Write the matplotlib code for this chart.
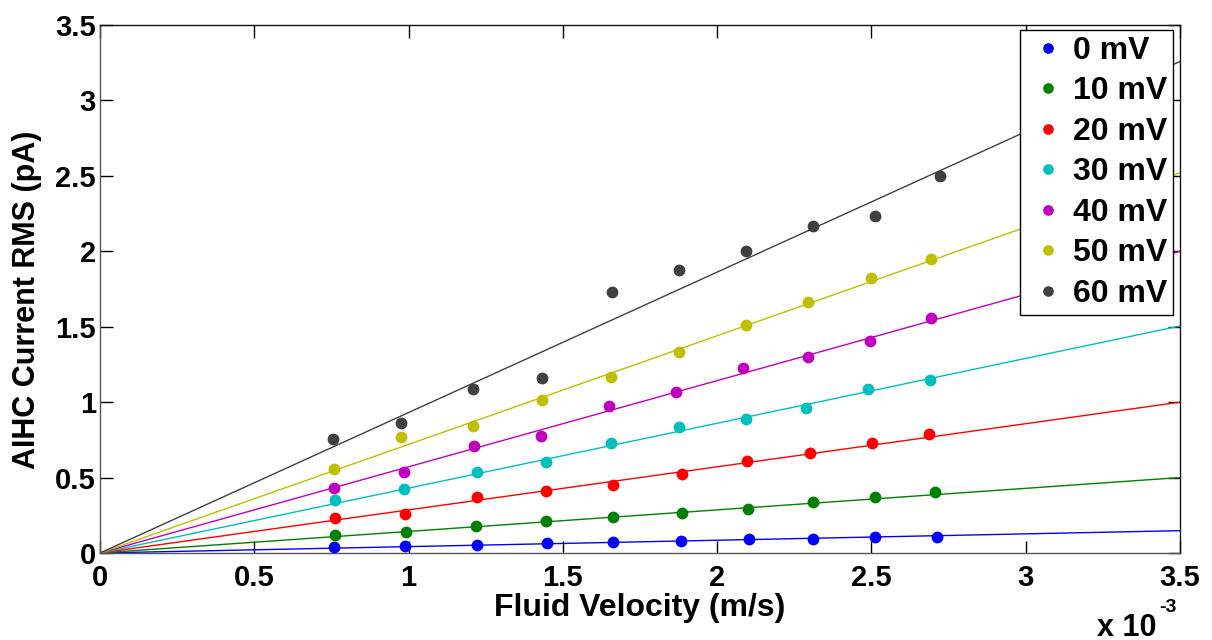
import matplotlib
matplotlib.use("Agg")
import matplotlib.pyplot as plt
from matplotlib.ticker import FixedLocator, FuncFormatter

plt.rcParams['font.family'] = ['Liberation Sans', 'DejaVu Sans']
plt.rcParams['font.weight'] = 'bold'

labels = ['0 mV', '10 mV', '20 mV', '30 mV', '40 mV', '50 mV', '60 mV']
colors = [(0, 0, 1), (0, 0.5, 0), (1, 0, 0), (0, 0.75, 0.75),
          (0.75, 0, 0.75), (0.75, 0.75, 0), (0.25, 0.25, 0.25)]

# fluid velocity (mm/s values, i.e. x 10^-3 m/s)
vel_0 = [0.758, 0.988, 1.222, 1.450, 1.664, 1.883, 2.103, 2.310, 2.513, 2.712]
vel_10 = [0.763, 0.991, 1.219, 1.446, 1.664, 1.885, 2.099, 2.310, 2.510, 2.705]
vel_20 = [0.763, 0.988, 1.223, 1.446, 1.664, 1.885, 2.096, 2.302, 2.502, 2.686]
vel_30 = [0.763, 0.986, 1.223, 1.446, 1.657, 1.878, 2.092, 2.288, 2.488, 2.689]
vel_40 = [0.759, 0.986, 1.211, 1.430, 1.649, 1.868, 2.084, 2.296, 2.494, 2.693]
vel_50 = [0.759, 0.974, 1.208, 1.433, 1.657, 1.875, 2.093, 2.296, 2.497, 2.693]
vel_60 = [0.755, 0.974, 1.208, 1.433, 1.659, 1.875, 2.093, 2.310, 2.513, 2.723]

# AIHC current RMS (pA)
rms_0 = [0.037, 0.048, 0.053, 0.066, 0.072, 0.081, 0.094, 0.094, 0.103, 0.107]
rms_10 = [0.120, 0.142, 0.179, 0.210, 0.241, 0.267, 0.289, 0.337, 0.370, 0.405]
rms_20 = [0.232, 0.258, 0.374, 0.414, 0.453, 0.525, 0.610, 0.663, 0.731, 0.792]
rms_30 = [0.350, 0.427, 0.536, 0.602, 0.729, 0.832, 0.886, 0.958, 1.088, 1.144]
rms_40 = [0.429, 0.536, 0.711, 0.777, 0.972, 1.066, 1.228, 1.300, 1.407, 1.556]
rms_50 = [0.556, 0.766, 0.845, 1.013, 1.166, 1.330, 1.510, 1.665, 1.823, 1.951]
rms_60 = [0.757, 0.864, 1.090, 1.160, 1.728, 1.879, 2.002, 2.168, 2.236, 2.501]

# linear fit slopes through origin (pA per mm/s)
fit_slopes = [0.0423, 0.1429, 0.2857, 0.430, 0.5714, 0.720, 0.931]

vels = [vel_0, vel_10, vel_20, vel_30, vel_40, vel_50, vel_60]
rmss = [rms_0, rms_10, rms_20, rms_30, rms_40, rms_50, rms_60]

x_ticks = [0, 0.5, 1, 1.5, 2, 2.5, 3, 3.5]
y_ticks = [0, 0.5, 1, 1.5, 2, 2.5, 3, 3.5]
x_max = 3.5e-3

fig = plt.figure(figsize=(12.12, 6.4), dpi=100)
ax = fig.add_axes([100 / 1212, 87 / 640, 1080 / 1212, 528 / 640])

handles = []
for v, r, s, c, lab in zip(vels, rmss, fit_slopes, colors, labels):
    vx = [val * 1e-3 for val in v]
    ax.plot([0, x_max], [0, s * x_max * 1e3], color=c, lw=1.0, zorder=2)
    h, = ax.plot(vx, r, 'o', color=c, markersize=8.5, markeredgewidth=0,
                 linestyle='none', zorder=3, label=lab)
    handles.append(h)

ax.set_xlim(0, x_max)
ax.set_ylim(0, 3.5)
ax.xaxis.set_major_locator(FixedLocator([t * 1e-3 for t in x_ticks]))
ax.xaxis.set_major_formatter(FuncFormatter(lambda x, p: f"{x * 1e3:g}"))
ax.yaxis.set_major_locator(FixedLocator(y_ticks))
ax.yaxis.set_major_formatter(FuncFormatter(lambda y, p: f"{y:g}"))

ax.tick_params(direction='in', length=9, width=1, top=True, right=True,
               labelsize=21, colors='black')
ax.tick_params(axis='x', pad=8)
ax.tick_params(axis='y', pad=3)
for lab in ax.get_xticklabels() + ax.get_yticklabels():
    lab.set_fontweight('bold')
for name, sp in ax.spines.items():
    sp.set_linewidth(1.0)
    sp.set_color('#555555' if name in ('left', 'bottom') else '#111111')

ax.set_xlabel('Fluid Velocity (m/s)', fontsize=23, fontweight='bold')
ax.set_ylabel('AIHC Current RMS (pA)', fontsize=22, fontweight='bold')
ax.xaxis.set_label_coords(0.5, -0.075)
ax.yaxis.set_label_coords(-0.054, 0.48)

leg = ax.legend(handles=handles, loc='upper right',
                bbox_to_anchor=(0.9935, 0.9905), borderaxespad=0,
                fontsize=23, frameon=True, fancybox=False, framealpha=1,
                edgecolor='black', handlelength=1.35, handletextpad=0.12,
                labelspacing=0.33, borderpad=0.18, markerscale=0.9)
leg.get_frame().set_linewidth(1.0)
for t in leg.get_texts():
    t.set_fontweight('bold')

fig.text(1097 / 1212, 4 / 640, 'x 10', fontsize=22, fontweight='bold',
         va='baseline', ha='left')
fig.text(1159 / 1212, 28 / 640, '-3', fontsize=14, fontweight='bold',
         va='baseline', ha='left')

fig.savefig('out.png', dpi=100, facecolor='white')
